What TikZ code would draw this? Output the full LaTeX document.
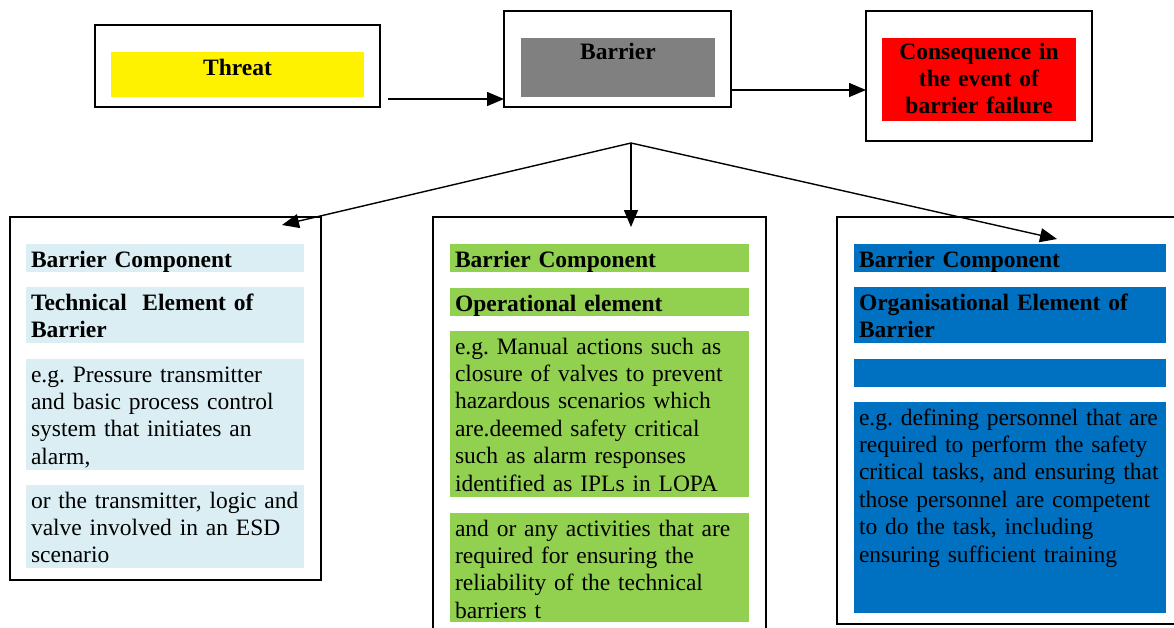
\documentclass[tikz,border=0pt]{standalone}
\usepackage{fontspec}
\setmainfont{Liberation Serif}
\usetikzlibrary{positioning}
\usetikzlibrary{arrows.meta}
\definecolor{techblue}{HTML}{DAEEF3}
\definecolor{opgreen}{HTML}{92D050}
\definecolor{orgblue}{HTML}{0070C0}
\definecolor{barriergray}{HTML}{808080}
\newcommand{\boxtext}{\fontsize{23.5pt}{27.4pt}\selectfont\frenchspacing}

\begin{document}
\begin{tikzpicture}[
    x=1pt, y=-1pt,
    font=\boxtext
]
\tikzset{
    outerbox/.style = {draw=black, line width=1.8pt, inner sep=0pt, outer sep=0pt},
    strip/.style = {anchor=north west, inner xsep=5pt, inner ysep=0pt, outer sep=0pt, text height=23pt, align=left},
    techstrip/.style = {strip, fill=techblue, text width=268pt},
    opstrip/.style = {strip, fill=opgreen, text width=289pt},
    orgstrip/.style = {strip, fill=orgblue, text width=302pt},
    headfill/.style = {anchor=north west, inner sep=0pt, outer sep=0pt, align=center, font=\boxtext\bfseries},
    arr/.style = {-{Triangle[length=17pt,width=14pt]}, line width=1.4pt}
}
\clip (0,0) rectangle (1174,627);
\node[outerbox, minimum width=285pt, minimum height=82pt] at (237.5,66) (threat) {};
\node[outerbox, minimum width=227pt, minimum height=96pt] at (617.5,59) (barrier) {};
\node[outerbox, minimum width=226pt, minimum height=130pt] at (979,76) (cons) {};
\node[outerbox, minimum width=311pt, minimum height=363pt] at (165.5,398.5) (techbox) {};
\node[outerbox, minimum width=333pt, minimum height=433pt] at (599.5,433.5) (opbox) {};
\node[outerbox, minimum width=348pt, minimum height=407pt] at (1011,420.5) (orgbox) {};

\node[headfill, fill=yellow, text width=253pt, text height=23pt, text depth=22pt] at (111,52) (threatfill) {Threat};
\node[headfill, fill=barriergray, text width=194pt, text height=21pt, text depth=38pt] at (521,38) (barrierfill) {Barrier};
\node[headfill, fill=red, text width=194pt, text height=21pt, text depth=62pt] at (882,38) (consfill) {Consequence in\\the event of\\barrier failure};

\node[techstrip, font=\boxtext\bfseries, text depth=5pt] at (26,244) (techhead) {Barrier Component};
\node[techstrip, font=\boxtext\bfseries, text depth=33pt] at (26,287) (techname) {Technical\ \ Element of\\Barrier};
\node[techstrip, text depth=88pt] at (26,359) (techex) {e.g. Pressure transmitter\\and basic process control\\system that initiates an\\alarm,};
\node[techstrip, text depth=60pt] at (26,485) (techor) {or the transmitter, logic and\\valve involved in an ESD\\scenario};

\node[opstrip, font=\boxtext\bfseries, text depth=5pt] at (450,244) (ophead) {Barrier Component};
\node[opstrip, font=\boxtext\bfseries, text depth=5pt] at (450,288) (opname) {Operational element};
\node[opstrip, text depth=143pt] at (450,331) (opex) {e.g. Manual actions such as\\closure of valves to prevent\\hazardous scenarios which\\are.deemed safety critical\\such as alarm responses\\identified as IPLs in LOPA};
\node[opstrip, text depth=86pt] at (450,513) (opand) {and or any activities that are\\required for ensuring the\\reliability of the technical\\barriers t};

\node[orgstrip, font=\boxtext\bfseries, text depth=5pt] at (854,244) (orghead) {Barrier Component};
\node[orgstrip, font=\boxtext\bfseries, text depth=33pt] at (854,287) (orgname) {Organisational Element of\\Barrier};
\node[orgstrip, text depth=5pt] at (854,359) (orgblank) {};
\node[orgstrip, text depth=188pt] at (854,402) (orgex) {e.g. defining personnel that are\\required to perform the safety\\critical tasks, and ensuring that\\those personnel are competent\\to do the task, including\\ensuring sufficient training};

\coordinate (split) at (631,143);
\draw[arr] ([xshift=8pt,yshift=8pt]threat.south east) coordinate (t1) -- (t1 -| barrier.west);
\draw[arr] ([yshift=17pt]barrier.south east) coordinate (b1) -- (b1 -| cons.west);
\draw[arr] (split) -- ([xshift=-39pt,yshift=-8pt]techbox.north east);
\draw[arr] (split) -- ([xshift=31.5pt,yshift=-10pt]opbox.north);
\draw[arr] (split) -- ([xshift=220pt,yshift=-22pt]orgbox.north west);
\end{tikzpicture}
\end{document}
